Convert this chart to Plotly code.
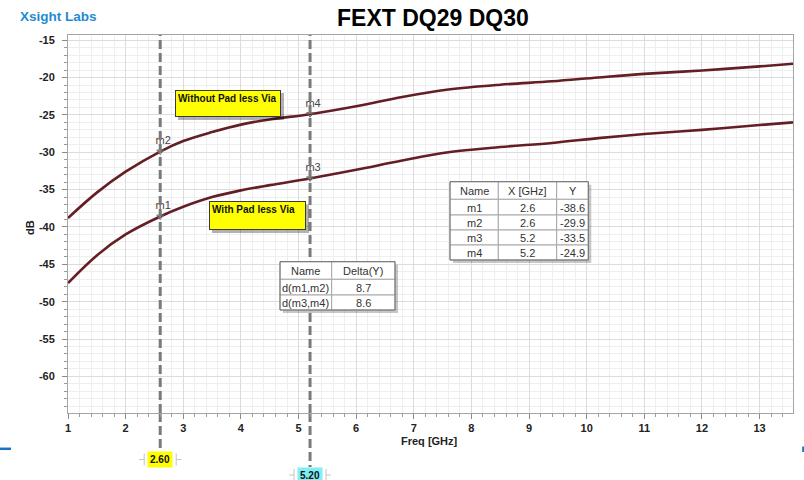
import plotly.graph_objects as go

# ---------------- data ----------------
freq_ghz = [1.0, 1.5, 2.0, 2.6, 3.0, 3.5, 4.0, 4.5, 5.2, 6.0, 6.8, 7.6, 8.5,
            9.4, 10.2, 11.0, 12.0, 13.0, 13.58]
without_pad_db = [-38.8, -35.4, -32.6, -29.9, -28.5, -27.3, -26.3, -25.6, -24.9,
                  -23.85, -22.6, -21.6, -20.95, -20.5, -19.98, -19.5, -19.05,
                  -18.5, -18.15]
with_pad_db = [-47.5, -43.8, -41.0, -38.6, -37.3, -36.0, -35.1, -34.4, -33.5,
               -32.35, -31.1, -30.0, -29.3, -28.75, -28.1, -27.55, -27.0,
               -26.35, -26.0]

marker_names = ["m1", "m2", "m3", "m4"]
marker_x = [2.6, 2.6, 5.2, 5.2]
marker_y = [-38.6, -29.9, -33.5, -24.9]

cursor_x = [2.6, 5.2]
cursor_colors = ["#ffff00", "#80eef5"]

delta_names = ["d(m1,m2)", "d(m3,m4)"]
delta_pairs = [(0, 1), (2, 3)]

x_ticks = list(range(1, 14))
y_ticks = list(range(-15, -61, -5))

# ---------------- geometry helpers (pixel -> paper) ----------------
PL, PR, PT, PB = 68, 793, 35, 413
PW, PH = PR - PL, PB - PT


def px(x):
    return (x - PL) / PW


def py(y):
    return (PB - y) / PH


FONT = "Liberation Sans, Arial, sans-serif"
CURVE = "#641e24"
DASH = "#7a7a7a"

fig = go.Figure()

# dashed cursor lines inside the plot (overlay axis spans the full height)
for cx in cursor_x:
    fig.add_trace(go.Scatter(x=[cx, cx], y=[0, 1], yaxis="y2", mode="lines",
                             line=dict(color=DASH, width=3, dash="9px,4px"),
                             hoverinfo="skip", showlegend=False))

fig.add_trace(go.Scatter(x=freq_ghz, y=without_pad_db, mode="lines",
                         line=dict(color=CURVE, width=2.6, shape="spline"),
                         name="Without Pad less Via", showlegend=False))
fig.add_trace(go.Scatter(x=freq_ghz, y=with_pad_db, mode="lines",
                         line=dict(color=CURVE, width=2.6, shape="spline"),
                         name="With Pad less Via", showlegend=False))

# marker points
fig.add_trace(go.Scatter(x=marker_x, y=marker_y, mode="markers+text",
                         text=["\u00a0\u00a0" + n for n in marker_names],
                         textposition="top center",
                         textfont=dict(family=FONT, size=11, color="#444444"),
                         marker=dict(symbol="triangle-down-open", size=6,
                                     color="#666666", line=dict(width=1)),
                         cliponaxis=False, showlegend=False))

shapes = []
annotations = []


def draw_table(col_edges, row_edges, rows):
    """Simple grid table drawn with shapes (cells) and annotations (text)."""
    x0, x1 = col_edges[0], col_edges[-1]
    y0, y1 = row_edges[0], row_edges[-1]
    shapes.append(dict(type="rect", xref="paper", yref="paper", layer="above",
                       x0=px(x0 + 3), x1=px(x1 + 3), y0=py(y1 + 3), y1=py(y0 + 3),
                       fillcolor="rgba(0,0,0,0.22)", line=dict(width=0)))
    for r, row in enumerate(rows):
        for c, val in enumerate(row):
            shapes.append(dict(type="rect", xref="paper", yref="paper", layer="above",
                               x0=px(col_edges[c]), x1=px(col_edges[c + 1]),
                               y0=py(row_edges[r + 1]), y1=py(row_edges[r]),
                               fillcolor="white", line=dict(color="#a8a8a8", width=1)))
            annotations.append(dict(
                x=px((col_edges[c] + col_edges[c + 1]) / 2),
                y=py((row_edges[r] + row_edges[r + 1]) / 2 + 0.5),
                xref="paper", yref="paper", xanchor="center", yanchor="middle",
                showarrow=False, text=val,
                font=dict(family=FONT, size=11, color="#333333")))
    shapes.append(dict(type="rect", xref="paper", yref="paper", layer="above",
                       x0=px(x0), x1=px(x1), y0=py(y1), y1=py(y0),
                       fillcolor="rgba(0,0,0,0)", line=dict(color="#707070", width=1)))


fmt = lambda v: f"{v:.1f}"

# marker table
marker_rows = [["Name", "X [GHz]", "Y"]] + [
    [n, fmt(x), fmt(y)] for n, x, y in zip(marker_names, marker_x, marker_y)]
draw_table([450, 498.3, 556.7, 588.3], [181.7, 199.3, 215, 230, 245, 260], marker_rows)

# delta table
delta_rows = [["Name", "Delta(Y)"]] + [
    [n, fmt(marker_y[b] - marker_y[a])] for n, (a, b) in zip(delta_names, delta_pairs)]
draw_table([280, 331.7, 395], [261.7, 279.3, 295, 310], delta_rows)

# cursor lines continued below the axis, with value tags
tag_centers = [459.5, 475.0]
for cx, col, yc in zip(cursor_x, cursor_colors, tag_centers):
    shapes.append(dict(type="line", xref="x", yref="paper", layer="below",
                       x0=cx, x1=cx, y0=0, y1=py(yc - 8),
                       line=dict(color=DASH, width=3, dash="9px,4px")))
    for sgn in (-1, 1):
        shapes.append(dict(type="line", xref="x", yref="paper", xsizemode="pixel",
                           xanchor=cx, x0=sgn * 16, x1=sgn * 16,
                           y0=py(yc - 6), y1=py(yc + 6),
                           line=dict(color="#c4c4c4", width=1)))
        shapes.append(dict(type="line", xref="x", yref="paper", xsizemode="pixel",
                           xanchor=cx, x0=sgn * 16, x1=sgn * 21,
                           y0=py(yc), y1=py(yc),
                           line=dict(color="#c4c4c4", width=1)))
    annotations.append(dict(x=cx, y=py(yc), xref="x", yref="paper",
                            xanchor="center", yanchor="middle",
                            text=f"<b>{cx:.2f}</b>", showarrow=False,
                            bgcolor=col, borderpad=2,
                            font=dict(family=FONT, size=10, color="#111111")))

# curve labels (yellow boxes with shadow)
labels = [("Without Pad less Via", 175, 90, 281, 117),
          ("With Pad less Via", 209, 201.5, 306, 230)]
for txt, x0, y0, x1, y1 in labels:
    shapes.append(dict(type="rect", xref="paper", yref="paper", layer="above",
                       x0=px(x0 + 3), x1=px(x1 + 3), y0=py(y1 + 3), y1=py(y0 + 3),
                       fillcolor="rgba(0,0,0,0.3)", line=dict(width=0)))
    annotations.append(dict(x=px((x0 + x1) / 2), y=py((y0 + y1) / 2),
                            xref="paper", yref="paper", xanchor="center",
                            yanchor="middle", showarrow=False,
                            text=f"<b>{txt}</b>", align="left", valign="top",
                            width=x1 - x0 - 6, height=y1 - y0 - 6, borderpad=2,
                            bgcolor="#ffff00", bordercolor="#3a3a3a", borderwidth=1,
                            font=dict(family=FONT, size=10, color="#111111")))

# small blue edge marks
shapes.append(dict(type="line", xref="paper", yref="paper", x0=px(0), x1=px(11),
                   y0=py(448.8), y1=py(448.8), line=dict(color="#1a73c6", width=2.5)))
shapes.append(dict(type="line", xref="paper", yref="paper", x0=px(803.2), x1=px(803.2),
                   y0=py(446.5), y1=py(452), line=dict(color="#1a73c6", width=2)))

# titles
txt_kw = dict(xref="paper", yref="paper", showarrow=False, yanchor="middle")
annotations += [
    dict(x=px(433), y=py(18), xanchor="center", text="<b>FEXT DQ29 DQ30</b>",
         font=dict(family=FONT, size=23, color="#000000"), **txt_kw),
    dict(x=px(18), y=py(16), xanchor="left", text="<b>Xsight Labs</b>",
         font=dict(family=FONT, size=13.5, color="#1f8bd3"), **txt_kw),
    dict(x=px(30), y=py(228), xanchor="center", textangle=-90, text="<b>dB</b>",
         font=dict(family=FONT, size=11, color="#222222"), **txt_kw),
    dict(x=px(429), y=py(441), xanchor="center", text="<b>Freq [GHz]</b>",
         font=dict(family=FONT, size=11, color="#222222"), **txt_kw),
]

axis_common = dict(showline=True, linecolor="#a5a5a5", linewidth=1, mirror=True,
                   ticks="outside", ticklen=5, tickcolor="#8a8a8a",
                   gridcolor="#dcdcdc", gridwidth=1, zeroline=False,
                   tickfont=dict(family=FONT, size=11, color="#222222"))

fig.update_xaxes(range=[1, 13.58], tickvals=x_ticks,
                 ticktext=[f"<b>{v}</b>" for v in x_ticks],
                 minor=dict(dtick=0.2, tick0=0, showgrid=True, gridcolor="#efefef",
                            ticks="outside", ticklen=3, tickcolor="#9a9a9a"),
                 **axis_common)
fig.update_yaxes(range=[-64.9, -14.3], tickvals=y_ticks,
                 ticktext=[f"<b>{v}</b>" for v in y_ticks],
                 ticklabelstandoff=5,
                 minor=dict(dtick=1, tick0=0, showgrid=True, gridcolor="#efefef",
                            ticks="outside", ticklen=3, tickcolor="#9a9a9a"),
                 **axis_common)

fig.update_layout(width=804, height=480,
                  margin=dict(l=PL, r=804 - PR, t=PT, b=480 - PB),
                  paper_bgcolor="white", plot_bgcolor="rgba(0,0,0,0)",
                  yaxis2=dict(overlaying="y", range=[0, 1], visible=False,
                              fixedrange=True),
                  shapes=shapes, annotations=annotations, showlegend=False,
                  font=dict(family=FONT))

fig.write_html("out.html")
